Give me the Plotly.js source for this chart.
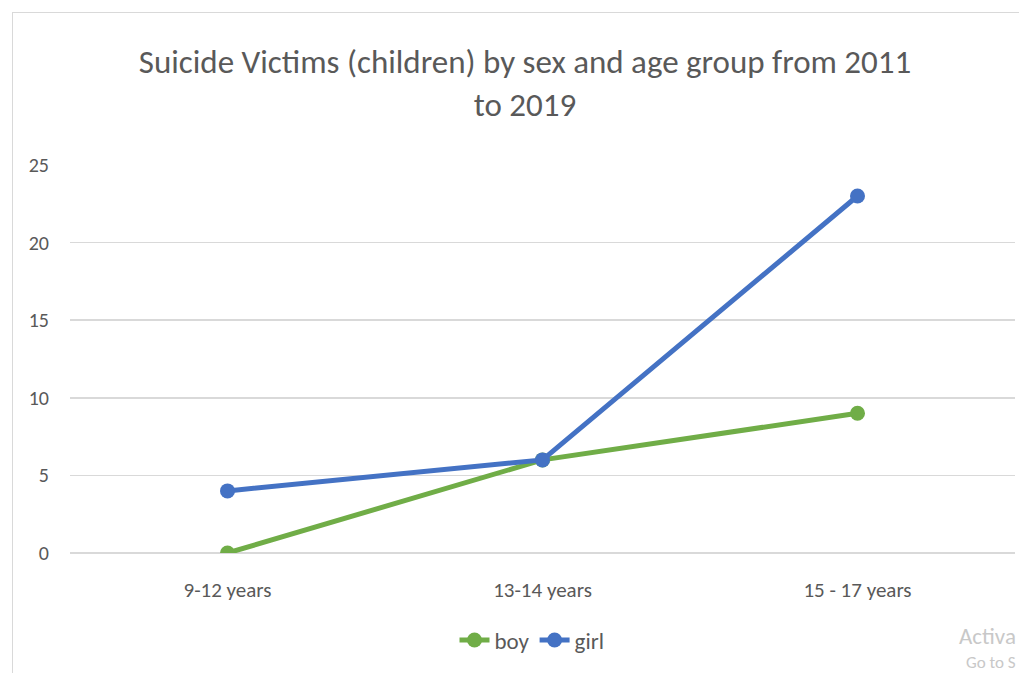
<!DOCTYPE html>
<html>
<head>
<meta charset="utf-8">
<script src="https://cdn.plot.ly/plotly-3.0.1.min.js"></script>
<style>
html,body{margin:0;padding:0;background:#fff;overflow:hidden;}
#chart{width:1019px;height:673px;}
#frame{position:absolute;left:12px;top:12px;width:1020px;height:670px;border-left:1px solid #d9d9d9;border-top:1px solid #d9d9d9;pointer-events:none;}
</style>
</head>
<body>
<div id="chart"></div>
<div id="frame"></div>
<script>
const categories = ["9-12 years", "13-14 years", "15 - 17 years"];
const boy = [0, 6, 9];
const girl = [4, 6, 23];
const yTicks = [0, 5, 10, 15, 20, 25];

const FONT = "Carlito, 'Liberation Sans Narrow', Lato, sans-serif";
const GREY = "#595959";

const traces = [
  {x: categories, y: boy, name: "boy", type: "scatter", mode: "lines+markers",
   line: {color: "#70ad47", width: 5}, marker: {color: "#70ad47", size: 15}},
  {x: categories, y: girl, name: "girl", type: "scatter", mode: "lines+markers",
   line: {color: "#4472c4", width: 5}, marker: {color: "#4472c4", size: 15}}
];

const layout = {
  width: 1019, height: 673,
  margin: {l: 70, r: 4, t: 165, b: 120, autoexpand: false},
  paper_bgcolor: "#fff", plot_bgcolor: "#fff",
  font: {family: FONT, color: GREY},
  title: {text: "Suicide Victims (children) by sex and age group from 2011<br>to 2019",
          font: {family: FONT, size: 33, color: GREY},
          x: 525/1019, xanchor: "center", xref: "container",
          y: 1 - 73/673, yanchor: "middle", yref: "container"},
  xaxis: {type: "category", range: [-0.5, 2.5], showgrid: false, zeroline: false,
          showline: false, ticks: "outside", ticklen: 18, tickcolor: "rgba(0,0,0,0)",
          tickfont: {family: FONT, size: 21, color: GREY}, fixedrange: true, automargin: false},
  yaxis: {range: [0, 25], tickvals: yTicks, showgrid: true, gridcolor: "#d9d9d9", gridwidth: 1.5,
          zeroline: true, zerolinecolor: "#d9d9d9", zerolinewidth: 1.5, showline: false,
          ticks: "outside", ticklen: 16, tickcolor: "rgba(0,0,0,0)",
          tickfont: {family: FONT, size: 20, color: GREY}, fixedrange: true, automargin: false},
  showlegend: true,
  legend: {orientation: "h", x: (532 - 70) / 945, xanchor: "center",
           y: (553 - 640) / 388, yanchor: "middle",
           font: {family: FONT, size: 23, color: GREY}, tracegroupgap: 0},
  annotations: [
    {text: "Activa", xref: "paper", yref: "paper", x: (1018-70)/945, y: (553-636)/388,
     xanchor: "right", yanchor: "middle", showarrow: false, font: {family: FONT, size: 23, color: "#c8c8c8"}},
    {text: "Go to S", xref: "paper", yref: "paper", x: (1018-70)/945, y: (553-662)/388,
     xanchor: "right", yanchor: "middle", showarrow: false, font: {family: FONT, size: 17, color: "#c8c8c8"}}
  ]
};

Plotly.newPlot("chart", traces, layout, {displayModeBar: false, staticPlot: true});
</script>
</body>
</html>
